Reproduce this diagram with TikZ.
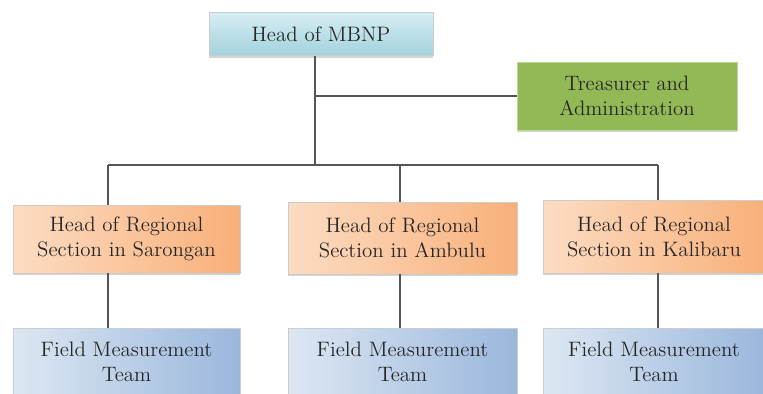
\documentclass[tikz,border=0pt]{standalone}
\usetikzlibrary{shadows}
\definecolor{mbnpTop}{HTML}{D6EEF3}
\definecolor{mbnpBot}{HTML}{A3D2DD}
\definecolor{adminGreen}{HTML}{93B957}
\definecolor{regLeft}{HTML}{FCDCC2}
\definecolor{regRight}{HTML}{F8B07A}
\definecolor{teamLeft}{HTML}{DDE7F3}
\definecolor{teamRight}{HTML}{9AB7DC}
\definecolor{linkGray}{HTML}{555555}

\tikzset{
  box/.style={draw=black!20, line width=0.4pt, align=center, inner sep=0pt,
    font=\fontsize{11.9}{14.2}\selectfont, text=black!85,
    drop shadow={shadow xshift=0pt, shadow yshift=-1.3pt, opacity=0.35}},
  mbnpbox/.style={box, top color=mbnpTop, bottom color=mbnpBot},
  adminbox/.style={box, fill=adminGreen, draw=adminGreen!60!white},
  regbox/.style={box, left color=regLeft, right color=regRight},
  teambox/.style={box, left color=teamLeft, right color=teamRight},
  link/.style={draw=linkGray, line width=0.75pt}
}

\begin{document}
\begin{tikzpicture}[x=0.02cm, y=-0.02cm]
    \useasboundingbox (0,0) rectangle (763,394);

    \node[mbnpbox, minimum width=4.48cm, minimum height=0.86cm] (mbnp) at (321,34) {Head of MBNP};
    \node[adminbox, minimum width=4.4cm, minimum height=1.36cm] (admin) at (627,96) {Treasurer and\\Administration};

    \node[regbox, minimum width=4.54cm, minimum height=1.36cm] (sarongan) at (126.5,239) {Head of Regional\\Section in Sarongan};
    \node[regbox, minimum width=4.58cm, minimum height=1.44cm] (ambulu) at (402.5,238) {Head of Regional\\Section in Ambulu};
    \node[regbox, minimum width=4.44cm, minimum height=1.46cm] (kalibaru) at (654,236.5) {Head of Regional\\Section in Kalibaru};

    \node[teambox, minimum width=4.54cm, minimum height=1.34cm] (saronganteam) at (126.5,361.5) {Field Measurement\\Team};
    \node[teambox, minimum width=4.58cm, minimum height=1.34cm] (ambuluteam) at (402.5,361.5) {Field Measurement\\Team};
    \node[teambox, minimum width=4.44cm, minimum height=1.34cm] (kalibaruteam) at (654,361.5) {Field Measurement\\Team};

    \coordinate (hub) at (315,165);
    \coordinate (b1) at (108,165);
    \coordinate (b2) at (400,165);
    \coordinate (b3) at (658,165);

    \draw[link] (mbnp.south -| hub) -- (hub);
    \draw[link] (hub |- admin.west) -- (admin.west);
    \draw[link] (b1) -- (b3);

    \draw[link] (b1) -- (b1 |- sarongan.north);
    \draw[link] (b2) -- (b2 |- ambulu.north);
    \draw[link] (b3) -- (b3 |- kalibaru.north);

    \draw[link] (b1 |- sarongan.south) -- (b1 |- saronganteam.north);
    \draw[link] (b2 |- ambulu.south) -- (b2 |- ambuluteam.north);
    \draw[link] (b3 |- kalibaru.south) -- (b3 |- kalibaruteam.north);
\end{tikzpicture}
\end{document}
